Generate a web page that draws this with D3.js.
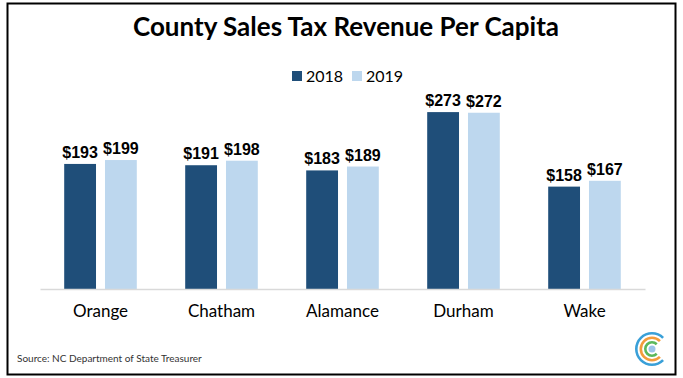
<!DOCTYPE html>
<html>
<head>
<meta charset="utf-8">
<script src="https://cdn.jsdelivr.net/npm/d3@7"></script>
<style>
  body { margin: 0; background: #fff; }
  svg { display: block; }
</style>
</head>
<body>
<div id="chart"></div>
<script>
// Chart data
const counties = ['Orange', 'Chatham', 'Alamance', 'Durham', 'Wake'];
const years = ['2018', '2019'];
const values2018 = [193, 191, 183, 273, 158];
const values2019 = [199, 198, 189, 272, 167];
const colors = ['#1f4e79', '#bdd7ee'];

const W = 683, H = 378;
const svg = d3.select('#chart').append('svg')
    .attr('width', W)
    .attr('height', H);

// Frame
svg.append('rect')
    .attr('x', 7.5).attr('y', 3.5)
    .attr('width', 668).attr('height', 371)
    .attr('fill', '#fff')
    .attr('stroke', '#000')
    .attr('stroke-width', 2);

// Title
svg.append('text')
    .attr('x', 346).attr('y', 36)
    .attr('text-anchor', 'middle')
    .style('font-family', 'Lato, "Open Sans", sans-serif')
    .style('font-weight', 'bold')
    .style('font-size', '26px')
    .text('County Sales Tax Revenue Per Capita');

// Scales
const margin = { left: 40, right: 38, top: 100, bottom: 89 };
const x0 = d3.scaleBand()
    .domain(counties)
    .range([margin.left, W - margin.right])
    .paddingInner(0.4)
    .paddingOuter(0.2);
const x1 = d3.scaleBand()
    .domain(years)
    .range([0, x0.bandwidth()])
    .paddingInner(0.22)
    .paddingOuter(0);
const y = d3.scaleLinear()
    .domain([0, 300])
    .range([H - margin.bottom, H - margin.bottom - 194.4]);

const rows = counties.map((c, i) => ({
    county: c,
    vals: [{ year: '2018', v: values2018[i] }, { year: '2019', v: values2019[i] }]
}));

// Bars
const groups = svg.selectAll('.group')
    .data(rows)
    .enter()
    .append('g')
    .attr('class', 'group')
    .attr('transform', d => `translate(${x0(d.county)},0)`);

groups.selectAll('rect')
    .data(d => d.vals)
    .enter()
    .append('rect')
    .attr('x', d => x1(d.year))
    .attr('width', x1.bandwidth())
    .attr('y', d => y(d.v))
    .attr('height', d => y(0) - y(d.v))
    .attr('fill', (d, i) => colors[i]);

groups.selectAll('.val')
    .data(d => d.vals)
    .enter()
    .append('text')
    .attr('class', 'val')
    .attr('x', d => x1(d.year) + x1.bandwidth() / 2)
    .attr('y', d => y(d.v) - 6)
    .attr('text-anchor', 'middle')
    .style('font-family', '"Liberation Sans", Arial, sans-serif')
    .style('font-weight', 'bold')
    .style('font-size', '16px')
    .text(d => '$' + d.v);

// Baseline axis
const xAxis = svg.append('g')
    .attr('transform', `translate(0,${y(0)})`)
    .call(d3.axisBottom(x0).tickSize(0).tickPadding(16).tickSizeOuter(0));
xAxis.select('.domain').attr('stroke', '#d9d9d9').attr('stroke-width', 1.5);
xAxis.selectAll('text')
    .style('font-family', 'Lato, "Open Sans", sans-serif')
    .style('font-size', '17px')
    .attr('fill', '#000');

// Legend
const legend = svg.append('g').attr('transform', 'translate(292,71)');
years.forEach((yr, i) => {
    const g = legend.append('g').attr('transform', `translate(${i * 60},0)`);
    g.append('rect').attr('width', 10).attr('height', 10).attr('fill', colors[i]);
    g.append('text')
        .attr('x', 14).attr('y', 10.5)
        .style('font-family', 'Lato, "Open Sans", sans-serif')
        .style('font-size', '16px')
        .text(yr);
});

// Source note
svg.append('text')
    .attr('x', 17).attr('y', 362)
    .style('font-family', 'Lato, "Open Sans", sans-serif')
    .style('font-size', '10px')
    .attr('fill', '#333')
    .text('Source: NC Department of State Treasurer');

// Logo: concentric arcs opening to the right
const logo = svg.append('g').attr('transform', 'translate(652,349)');
const arcColors = ['#3aa0d8', '#f39c3c', '#5cb85c'];
[17, 12.5, 8].forEach((r, i) => {
    logo.append('path')
        .attr('d', d3.arc()({
            innerRadius: r - 2.6,
            outerRadius: r,
            startAngle: Math.PI * 0.75,
            endAngle: Math.PI * 2.25
        }))
        .attr('fill', arcColors[i]);
});
logo.append('circle').attr('r', 3.5).attr('fill', '#9cc3ea');
</script>
</body>
</html>
